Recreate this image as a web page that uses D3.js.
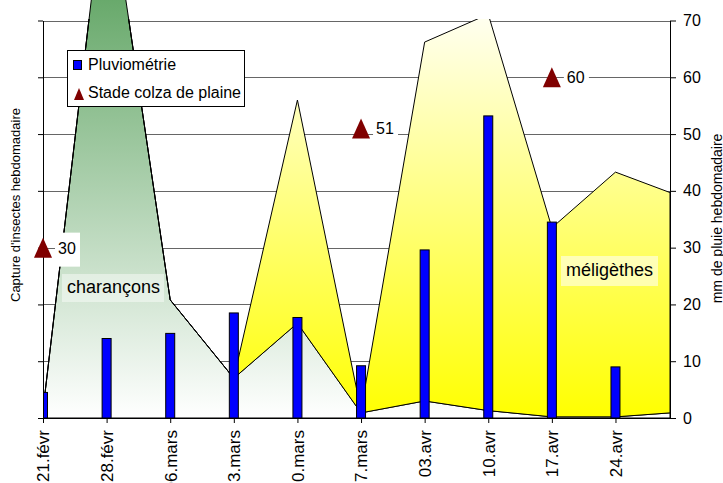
<!DOCTYPE html>
<html>
<head>
<meta charset="utf-8">
<script src="https://cdn.jsdelivr.net/npm/d3@7"></script>
<style>
  body{margin:0;background:#fff;}
  svg{display:block;font-family:"Liberation Sans",Arial,sans-serif;}
</style>
</head>
<body>
<div id="chart"></div>
<script>

//******************************************************************************
//**  Data
//******************************************************************************
var dates = ["2008-02-21","2008-02-28","2008-03-06","2008-03-13","2008-03-20",
             "2008-03-27","2008-04-03","2008-04-10","2008-04-17","2008-04-24","2008-04-30"];
var dateLabels = ["21.févr","28.févr","06.mars","13.mars","20.mars",
                  "27.mars","03.avr","10.avr","17.avr","24.avr"];
var pluviometrie = [4.5, 14.0, 14.9, 18.5, 17.7, 9.2, 29.6, 53.2, 34.5, 9.0];
var stadeColza = [30, null, null, null, null, 51, null, null, 60, null];
var charancons = [1.4, 96.5, 20.8, 7.0, 16.7, 0.9, 3.0, 1.3, 0.2, 0.2, 0.9];
var meligethes = [0, 0, 0, 0, 39.3, 0.4, 63.2, 69.8, 33.3, 43.1, 38.8];
var yTicks = [0, 10, 20, 30, 40, 50, 60, 70];


//******************************************************************************
//**  Chart
//******************************************************************************
var width = 723, height = 483;
var plot = {left: 43, right: 670, top: 20.5, bottom: 418};
var parse = d3.timeParse("%Y-%m-%d");

var svg = d3.select("#chart").append("svg")
    .attr("width", width)
    .attr("height", height);

var x = d3.scaleTime()
    .domain([parse(dates[0]), parse(dates[dates.length-1])])
    .range([plot.left, plot.right]);
var yL = d3.scaleLinear().domain([0, 70]).range([plot.bottom, plot.top]);
var yR = d3.scaleLinear().domain([0, 70]).range([plot.bottom, plot.top]);

var defs = svg.append("defs");

// clip paths
defs.append("clipPath").attr("id", "plotClip")
  .append("rect")
    .attr("x", plot.left).attr("y", plot.top - 1.5)
    .attr("width", plot.right - plot.left)
    .attr("height", plot.bottom - plot.top + 1.5);
defs.append("clipPath").attr("id", "sideClip")
  .append("rect")
    .attr("x", plot.left).attr("y", 0)
    .attr("width", plot.right - plot.left)
    .attr("height", plot.bottom);


// gradients
var addGradient = function(id, y1, y2, stops){
    var g = defs.append("linearGradient")
        .attr("id", id)
        .attr("gradientUnits", "userSpaceOnUse")
        .attr("x1", 0).attr("x2", 0)
        .attr("y1", y1).attr("y2", y2);
    stops.forEach(function(s){
        g.append("stop").attr("offset", s[0]).attr("stop-color", s[1]);
    });
};
addGradient("greenGrad", yL(d3.max(charancons)), plot.bottom,
    [[0, "#3a8f3e"], [1, "#ffffff"]]);
addGradient("yellowGrad", plot.top, plot.bottom,
    [[0, "#ffffee"], [1, "#ffff00"]]);


// gridlines
svg.append("g")
  .selectAll("line")
  .data(yTicks.slice(1))
  .enter().append("line")
    .attr("x1", plot.left).attr("x2", plot.right)
    .attr("y1", function(d){ return Math.round(yR(d)) + 0.5; })
    .attr("y2", function(d){ return Math.round(yR(d)) + 0.5; })
    .attr("stroke", "#666")
    .attr("stroke-width", 1);


// stacked areas
var rows = dates.map(function(d, i){
    return {date: parse(d), charancons: charancons[i], meligethes: meligethes[i]};
});
var series = d3.stack().keys(["charancons", "meligethes"])(rows);

var area = d3.area()
    .x(function(d){ return x(d.data.date); })
    .y0(function(d){ return yL(d[0]); })
    .y1(function(d){ return yL(d[1]); });

svg.append("path")
    .datum(series[0])
    .attr("d", area)
    .attr("clip-path", "url(#sideClip)")
    .attr("fill", "url(#greenGrad)")
    .attr("stroke", "#000")
    .attr("stroke-width", 1);

svg.append("path")
    .datum(series[1])
    .attr("d", area)
    .attr("clip-path", "url(#plotClip)")
    .attr("fill", "url(#yellowGrad)")
    .attr("stroke", "#000")
    .attr("stroke-width", 1);


// text boxes
var addNote = function(text, tx, ty, box, fill){
    svg.append("rect")
        .attr("x", box[0]).attr("y", box[1])
        .attr("width", box[2]).attr("height", box[3])
        .attr("fill", fill);
    svg.append("text")
        .attr("x", tx).attr("y", ty)
        .attr("font-size", 18)
        .attr("fill", "#000")
        .text(text);
};
addNote("charançons", 67, 293, [62, 274, 102, 28], "rgba(255,255,255,0.45)");
addNote("méligèthes", 566, 276, [561, 256, 97, 30], "rgba(255,255,255,0.55)");


// bars
var bw = 9;
svg.append("g")
    .attr("clip-path", "url(#plotClip)")
  .selectAll("rect")
  .data(pluviometrie)
  .enter().append("rect")
    .attr("x", function(d, i){ return x(parse(dates[i])) - bw/2; })
    .attr("y", function(d){ return yR(d); })
    .attr("width", bw)
    .attr("height", function(d){ return yR(0) - yR(d); })
    .attr("fill", "#0000ff")
    .attr("stroke", "#000")
    .attr("stroke-width", 1);


// axes
var axisL = svg.append("g")
    .attr("transform", "translate(" + plot.left + ",0)")
    .call(d3.axisLeft(yL).tickValues(yTicks).tickFormat("").tickSize(5).tickSizeOuter(0));

var axisR = svg.append("g")
    .attr("transform", "translate(" + plot.right + ",0)")
    .call(d3.axisRight(yR).tickValues(yTicks).tickSize(6).tickPadding(7).tickSizeOuter(0));

var axisB = svg.append("g")
    .attr("transform", "translate(0," + plot.bottom + ")")
    .call(d3.axisBottom(x)
        .tickValues(dateLabels.map(function(d, i){ return parse(dates[i]); }))
        .tickFormat(function(d, i){ return dateLabels[i]; })
        .tickSize(5).tickSizeOuter(0));

[axisL, axisR, axisB].forEach(function(a){
    a.attr("font-family", null).attr("font-size", 16);
    a.selectAll("path,line").attr("stroke", "#000");
    a.selectAll("text").attr("fill", "#000");
});
axisB.selectAll("text")
    .attr("font-size", 17)
    .attr("transform", "rotate(-90)")
    .attr("x", -12).attr("y", 0).attr("dy", "0.35em")
    .style("text-anchor", "end");


// stade colza markers + labels
var stade = stadeColza
    .map(function(v, i){ return {v: v, date: parse(dates[i])}; })
    .filter(function(d){ return d.v !== null; });

var mk = svg.append("g").selectAll("g").data(stade).enter().append("g")
    .attr("transform", function(d){ return "translate(" + x(d.date) + "," + yR(d.v) + ")"; });
mk.append("rect")
    .attr("x", 12).attr("y", -15).attr("width", 25).attr("height", 34)
    .attr("fill", "#fff");
mk.append("path")
    .attr("d", "M0,-10L9,10L-9,10Z")
    .attr("fill", "#800000");
mk.append("text")
    .attr("x", 15).attr("y", 6)
    .attr("font-size", 16)
    .text(function(d){ return d.v; });


// axis titles
svg.append("text")
    .attr("transform", "translate(19.5,205) rotate(-90)")
    .attr("text-anchor", "middle")
    .attr("font-size", 13)
    .text("Capture d'insectes hebdomadaire");
svg.append("text")
    .attr("transform", "translate(722,218.5) rotate(-90)")
    .attr("text-anchor", "middle")
    .attr("font-size", 14)
    .text("mm de pluie hebdomadaire");


// legend
var legend = svg.append("g");
legend.append("rect")
    .attr("x", 67.5).attr("y", 50.5).attr("width", 177).attr("height", 56)
    .attr("fill", "#fff").attr("stroke", "#000");
legend.append("rect")
    .attr("x", 73.5).attr("y", 60.5).attr("width", 8).attr("height", 9)
    .attr("fill", "#0000ff").attr("stroke", "#000");
legend.append("path")
    .attr("d", "M79,88L84,100L74,100Z")
    .attr("fill", "#800000");
legend.append("text").attr("x", 88).attr("y", 70).attr("font-size", 16).text("Pluviométrie");
legend.append("text").attr("x", 88).attr("y", 98).attr("font-size", 16).text("Stade colza de plaine");

</script>
</body>
</html>
